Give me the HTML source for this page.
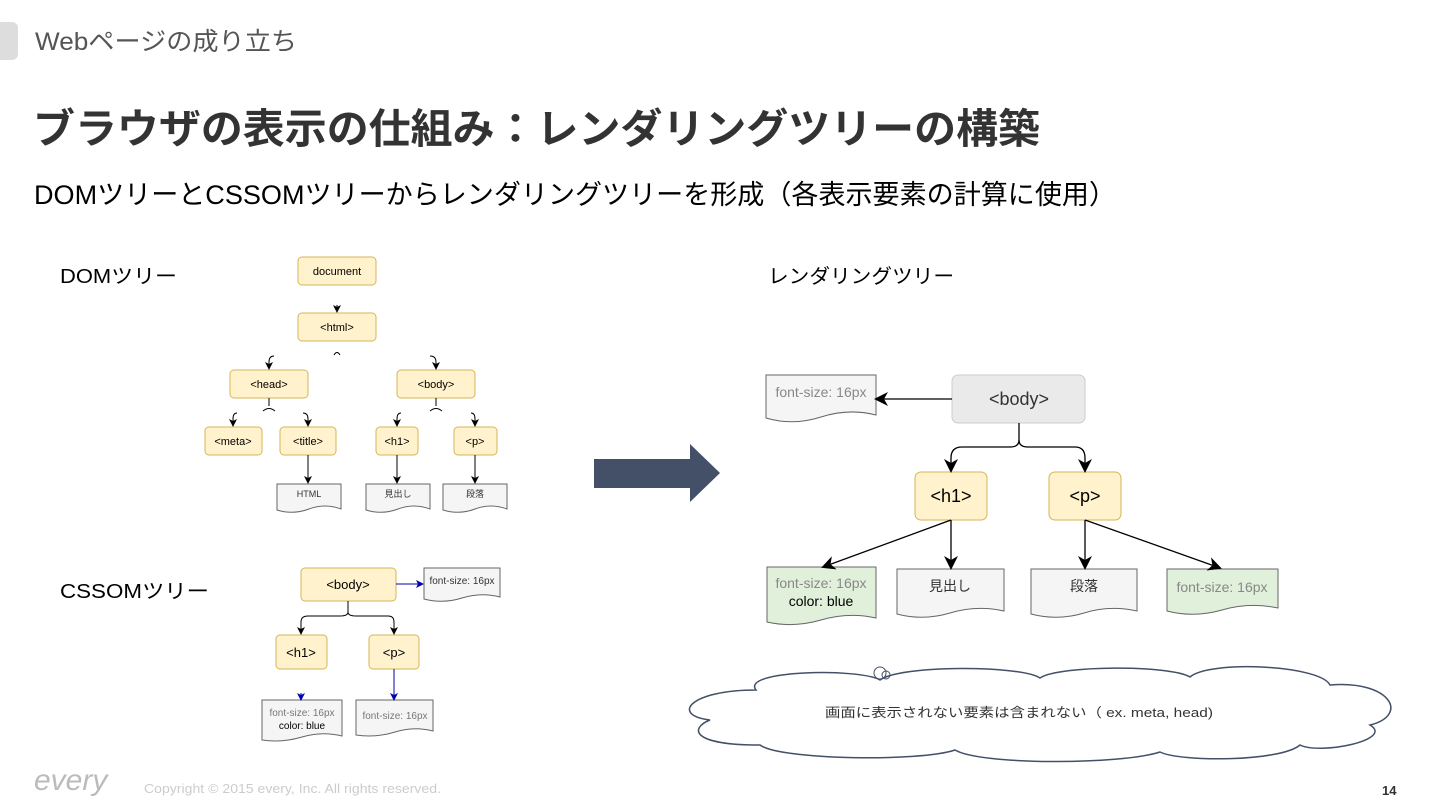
<!DOCTYPE html>
<html><head><meta charset="utf-8"><style>
body{margin:0;width:1440px;height:810px;background:#fff;overflow:hidden;font-family:"Liberation Sans","Noto Sans CJK JP",sans-serif}
svg{position:absolute;left:0;top:0}
text{font-family:"Liberation Sans","Noto Sans CJK JP",sans-serif}
</style></head><body>
<svg width="1440" height="810" viewBox="0 0 1440 810">
<defs>
<marker id="a" markerWidth="8" markerHeight="8" refX="7" refY="4" orient="auto" markerUnits="userSpaceOnUse"><path d="M0,0 L8,4 L0,8 L2,4z" fill="#000"/></marker>
<marker id="b" markerWidth="8" markerHeight="8" refX="7" refY="4" orient="auto" markerUnits="userSpaceOnUse"><path d="M0,0 L8,4 L0,8 L2,4z" fill="#0000b0"/></marker>
<marker id="c" markerWidth="14" markerHeight="14" refX="12" refY="7" orient="auto" markerUnits="userSpaceOnUse"><path d="M0,0 L14,7 L0,14 L4,7z" fill="#000"/></marker>
</defs>
<rect x="-10" y="22" width="28" height="38" rx="6" fill="#ddd"/>
<text x="35" y="50" font-size="25" fill="#555" textLength="262" lengthAdjust="spacingAndGlyphs">Webページの成り立ち</text>
<text x="33" y="143" font-size="41" font-weight="bold" fill="#333" textLength="1007" lengthAdjust="spacingAndGlyphs">ブラウザの表示の仕組み：レンダリングツリーの構築</text>
<text x="34" y="204" font-size="27" fill="#000" textLength="1082" lengthAdjust="spacingAndGlyphs">DOMツリーとCSSOMツリーからレンダリングツリーを形成（各表示要素の計算に使用）</text>
<text x="60" y="283" font-size="20" textLength="117" lengthAdjust="spacingAndGlyphs">DOMツリー</text>
<text x="60" y="598" font-size="20" textLength="149" lengthAdjust="spacingAndGlyphs">CSSOMツリー</text>
<text x="768" y="283" font-size="20" textLength="186" lengthAdjust="spacingAndGlyphs">レンダリングツリー</text>

<g font-size="11" text-anchor="middle" stroke-width="1">
<g fill="#fff2cc" stroke="#d6b656">
<rect x="298" y="257" width="78" height="28" rx="4"/>
<rect x="298" y="313" width="78" height="28" rx="4"/>
<rect x="230" y="370" width="78" height="28" rx="4"/>
<rect x="397" y="370" width="78" height="28" rx="4"/>
<rect x="205" y="427" width="57" height="28" rx="4"/>
<rect x="280" y="427" width="56" height="28" rx="4"/>
<rect x="376" y="427" width="42" height="28" rx="4"/>
<rect x="454" y="427" width="43" height="28" rx="4"/>
</g>
<text x="337" y="275">document</text><text x="337" y="331">&lt;html&gt;</text>
<text x="269" y="388">&lt;head&gt;</text><text x="436" y="388">&lt;body&gt;</text>
<text x="233" y="445">&lt;meta&gt;</text><text x="308" y="445">&lt;title&gt;</text>
<text x="397" y="445">&lt;h1&gt;</text><text x="475" y="445">&lt;p&gt;</text>
<g fill="#f5f5f5" stroke="#666">
<path d="M277,484 H341 V509 Q325,503 309,509 T277,510 Z"/>
<path d="M366,484 H430 V509 Q414,503 398,509 T366,510 Z"/>
<path d="M443,484 H507 V509 Q491,503 475,509 T443,510 Z"/>
</g>
<g font-size="9" fill="#333"><text x="309" y="497">HTML</text><text x="398" y="497">見出し</text><text x="475" y="497">段落</text></g>
<g fill="none" stroke="#000" marker-end="url(#a)">
<path d="M337,305 V312"/>
<path d="M274,356 Q269,356 269,362 V369"/>
<path d="M430,356 Q436,356 436,362 V369"/>
<path d="M237,413 Q233,413 233,419 V426"/>
<path d="M303,413 Q308,413 308,419 V426"/>
<path d="M401,413 Q397,413 397,419 V426"/>
<path d="M471,413 Q475,413 475,419 V426"/>
<path d="M308,455 V483"/><path d="M397,455 V483"/><path d="M475,455 V483"/>
</g>
<g fill="none" stroke="#000"><path d="M334,355 Q337,350 340,355"/><path d="M269,398 V406 M263,411 Q269,406 275,411"/><path d="M436,398 V406 M430,411 Q436,406 442,411"/></g>

<g fill="#fff2cc" stroke="#d6b656">
<rect x="301" y="568" width="95" height="33" rx="4"/>
<rect x="276" y="635" width="51" height="34" rx="4"/>
<rect x="369" y="635" width="50" height="34" rx="4"/>
</g>
<text x="348" y="589" font-size="13">&lt;body&gt;</text><text x="301" y="657" font-size="13">&lt;h1&gt;</text><text x="394" y="657" font-size="13">&lt;p&gt;</text>
<g fill="#f5f5f5" stroke="#666">
<path d="M424,568 H500 V597 Q481,592 462,598 T424,599 Z"/>
<path d="M262,700 H342 V736 Q322,731 302,737 T262,740 Z"/>
<path d="M356,700 H433 V731 Q414,726 395,732 T356,735 Z"/>
</g>
<g font-size="10" fill="#777"><text x="462" y="584" fill="#333">font-size: 16px</text><text x="302" y="716">font-size: 16px</text><text x="302" y="729" fill="#000">color: blue</text><text x="395" y="719">font-size: 16px</text></g>
<g fill="none" stroke="#0000b0" marker-end="url(#b)"><path d="M396,584 H423"/><path d="M394,669 V700"/><path d="M301,693 V700"/></g>
<g fill="none" stroke="#000" marker-end="url(#a)"><path d="M348,601 V612 Q348,616 340,616 H308 Q301,616 301,622 V634"/><path d="M348,612 Q348,616 356,616 H388 Q394,616 394,622 V634"/></g>

<path d="M594,459 H690 V444 L720,473 L690,502 V488 H594 Z" fill="#435067"/>

<rect x="952" y="375" width="133" height="48" rx="6" fill="#eaeaea" stroke="#ccc"/>
<text x="1019" y="405" font-size="18" fill="#333">&lt;body&gt;</text>
<g fill="#fff2cc" stroke="#d6b656"><rect x="915" y="472" width="72" height="48" rx="6"/><rect x="1049" y="472" width="72" height="48" rx="6"/></g>
<text x="951" y="502" font-size="18">&lt;h1&gt;</text><text x="1085" y="502" font-size="18">&lt;p&gt;</text>
<g stroke="#666">
<path d="M766,375 H876 V415 Q849,408 821,417 T766,418 Z" fill="#f5f5f5"/>
<path d="M767,567 H876 V618 Q849,612 821,620 T767,622 Z" fill="#e1f0da"/>
<path d="M897,569 H1004 V611 Q977,605 950,613 T897,614 Z" fill="#f5f5f5"/>
<path d="M1031,569 H1137 V611 Q1110,605 1084,613 T1031,614 Z" fill="#f5f5f5"/>
<path d="M1167,569 H1278 V608 Q1250,602 1222,610 T1167,611 Z" fill="#e1f0da"/>
</g>
<g font-size="14" fill="#888"><text x="821" y="397">font-size: 16px</text><text x="821" y="588">font-size: 16px</text><text x="821" y="606" fill="#000">color: blue</text><text x="950" y="591" fill="#333">見出し</text><text x="1084" y="591" fill="#333">段落</text><text x="1222" y="592">font-size: 16px</text></g>
<g fill="none" stroke="#000" stroke-width="1.3" marker-end="url(#c)">
<path d="M952,399 H876"/>
<path d="M1019,423 V440 Q1019,447 1010,447 H962 Q951,447 951,458 V471"/>
<path d="M1019,440 Q1019,447 1028,447 H1075 Q1085,447 1085,458 V471"/>
<path d="M951,520 L823,567"/><path d="M951,520 V568"/><path d="M1085,520 V568"/><path d="M1085,520 L1220,568"/>
</g>

<path d="M756,690 C740,670 860,668 880,680 C900,665 1020,665 1040,678 C1060,665 1170,665 1190,677 C1210,660 1320,665 1330,685 C1390,680 1410,715 1370,725 C1395,740 1320,755 1300,745 C1280,762 1180,762 1160,752 C1120,765 980,765 955,750 C920,762 780,760 760,745 C690,745 690,728 710,720 C670,715 690,690 756,690 Z" fill="#fff" stroke="#435067" stroke-width="1.5"/>
<circle cx="880" cy="673" r="6" fill="none" stroke="#435067"/><circle cx="886" cy="675" r="4" fill="none" stroke="#435067"/>
<text x="1019" y="717" font-size="13" fill="#333" textLength="388" lengthAdjust="spacingAndGlyphs">画面に表示されない要素は含まれない（ ex. meta, head)</text>
</g>
<text x="34" y="790" font-size="30" font-style="italic" fill="#bbb" font-family="Liberation Serif">every</text>
<text x="144" y="793" font-size="13" fill="#ccc" textLength="297" lengthAdjust="spacingAndGlyphs">Copyright © 2015 every, Inc. All rights reserved.</text>
<text x="1382" y="795" font-size="13" font-weight="bold" fill="#333">14</text>
</svg>
</body></html>
